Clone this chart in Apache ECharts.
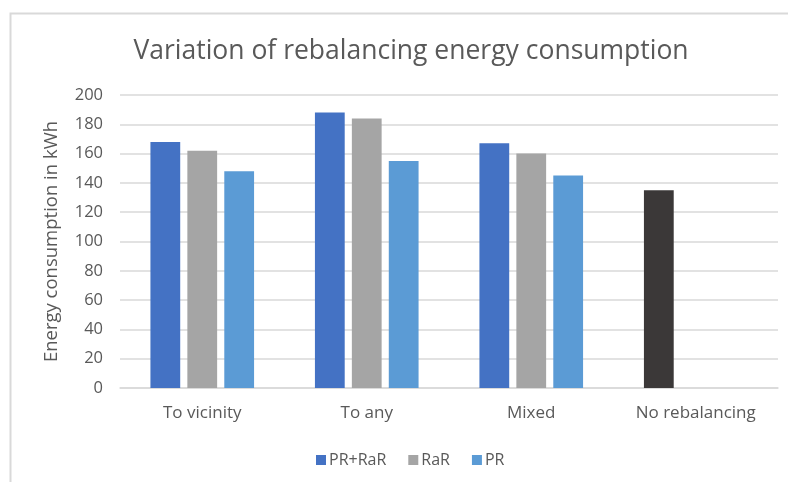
<!DOCTYPE html>
<html>
<head>
<meta charset="utf-8">
<script src="https://cdn.jsdelivr.net/npm/echarts@6/dist/echarts.min.js"></script>
<style>
  html, body { margin: 0; padding: 0; background: #ffffff; }
  #chart { width: 788px; height: 482px; }
</style>
</head>
<body>
<div id="chart"></div>
<script>
// Rebalancing strategies on the x axis
const categories = ['To vicinity', 'To any', 'Mixed', 'No rebalancing'];

// Energy consumption (kWh) per strategy
const prRaR = [168, 188, 167, 135];
const raR = [162, 184, 160, null];
const pr = [148, 155, 145, null];

const yTicks = { min: 0, max: 200, interval: 20 };

const FONT = '"Open Sans", "Liberation Sans", sans-serif';
const TEXT = '#595959';

const chart = echarts.init(document.getElementById('chart'), null, { renderer: 'canvas' });

// The baseline case has no strategy variant, so it is drawn dark within the first series
const prRaRData = prRaR.map((v, i) =>
  i === categories.length - 1 ? { value: v, itemStyle: { color: '#3b3838' } } : v
);

chart.setOption({
  backgroundColor: '#ffffff',
  animation: false,
  graphic: [{
    type: 'rect',
    shape: { x: 10.5, y: 13.5, width: 800, height: 500 },
    style: { fill: 'none', stroke: '#d9d9d9', lineWidth: 2 },
    silent: true,
    z: -1
  }],
  title: {
    text: 'Variation of rebalancing energy consumption',
    left: 406,
    textAlign: 'center',
    top: 33,
    textStyle: { fontFamily: FONT, fontSize: 26.5, fontWeight: 'normal', color: TEXT }
  },
  legend: {
    data: ['PR+RaR', 'RaR', 'PR'],
    bottom: 9,
    left: 311,
    itemWidth: 10,
    itemHeight: 10,
    itemGap: 22,
    icon: 'rect',
    textStyle: { fontFamily: FONT, fontSize: 16, color: TEXT, padding: [0, 0, 0, -2] }
  },
  grid: { left: 120, right: 10, top: 95, bottom: 94, containLabel: false },
  xAxis: {
    type: 'category',
    data: categories,
    axisLine: { lineStyle: { color: '#d9d9d9', width: 1.5 } },
    axisTick: { show: false },
    axisLabel: { fontFamily: FONT, fontSize: 17, color: TEXT, margin: 17 }
  },
  yAxis: {
    type: 'value',
    min: yTicks.min,
    max: yTicks.max,
    interval: yTicks.interval,
    name: 'Energy consumption in kWh',
    nameLocation: 'middle',
    nameGap: 59,
    nameTextStyle: { fontFamily: FONT, fontSize: 18.5, color: TEXT },
    axisLine: { show: false },
    axisTick: { show: false },
    axisLabel: { fontFamily: FONT, fontSize: 16.5, color: TEXT, margin: 17 },
    splitLine: { lineStyle: { color: '#d9d9d9', width: 1.5 } }
  },
  series: [
    { name: 'PR+RaR', type: 'bar', data: prRaRData, barGap: '24%', barCategoryGap: '37%',
      itemStyle: { color: '#4472c4' } },
    { name: 'RaR', type: 'bar', data: raR, itemStyle: { color: '#a5a5a5' } },
    { name: 'PR', type: 'bar', data: pr, itemStyle: { color: '#5b9bd5' } }
  ]
});
</script>
</body>
</html>
